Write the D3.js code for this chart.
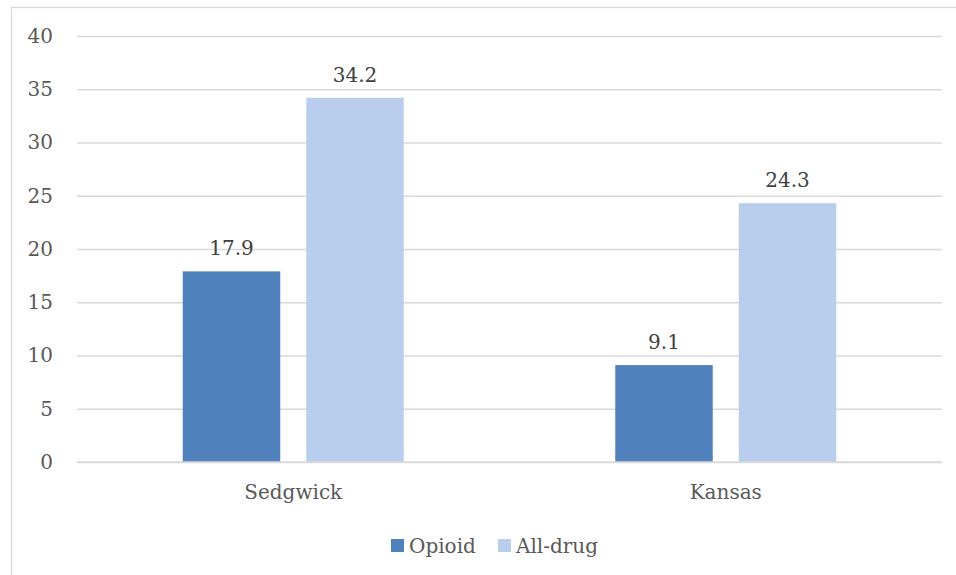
<!DOCTYPE html>
<html>
<head>
<meta charset="utf-8">
<script src="https://cdn.jsdelivr.net/npm/d3@7"></script>
<style>
  html, body { margin: 0; padding: 0; background: #fff; }
  svg { display: block; }
</style>
</head>
<body>
<svg id="chart" width="956" height="575"></svg>
<script>
const categories = ["Sedgwick", "Kansas"];
const seriesNames = ["Opioid", "All-drug"];
const opioidValues = [17.9, 9.1];
const allDrugValues = [34.2, 24.3];
const yTicks = [0, 5, 10, 15, 20, 25, 30, 35, 40];

(function () {
const colors = { "Opioid": "#4F81BD", "All-drug": "#B9CEED" };
const font = "'DejaVu Serif', 'Liberation Serif', serif";

const svg = d3.select("#chart");

// chart frame
svg.append("rect")
  .attr("x", 11.5).attr("y", 7.5)
  .attr("width", 980).attr("height", 620)
  .attr("fill", "#fff").attr("stroke", "#D9D9D9").attr("stroke-width", 1.3);

const pLeft = 77, pRight = 942, pTop = 36, pBottom = 462;

const y = d3.scaleLinear().domain([0, 40]).range([pBottom, pTop]);
const x0 = d3.scaleBand().domain(categories).range([pLeft, pRight]).padding(0);

const barW = 97.5, gap = 26;
const step = barW + gap;
const pInner = gap / step;
const pOuter = (x0.bandwidth() / step - (2 - pInner)) / 2;
const x1 = d3.scaleBand().domain(seriesNames).range([0, x0.bandwidth()])
  .paddingInner(pInner).paddingOuter(pOuter);

// gridlines
const yAxis = d3.axisLeft(y).tickValues(yTicks).tickSize(-(pRight - pLeft)).tickPadding(24);
const gy = svg.append("g").attr("transform", `translate(${pLeft},0)`).call(yAxis);
gy.select(".domain").remove();
gy.selectAll(".tick line").attr("stroke", "#D9D9D9").attr("stroke-width", 1.3);
gy.selectAll(".tick text")
  .attr("fill", "#595959").style("font-family", font).style("font-size", "20px");

const data = categories.map((c, i) => ({
  cat: c,
  vals: [
    { s: "Opioid", v: opioidValues[i] },
    { s: "All-drug", v: allDrugValues[i] }
  ]
}));

const groups = svg.append("g").selectAll("g").data(data).join("g")
  .attr("transform", d => `translate(${x0(d.cat)},0)`);

groups.selectAll("rect").data(d => d.vals).join("rect")
  .attr("x", d => x1(d.s))
  .attr("width", x1.bandwidth())
  .attr("y", d => y(d.v))
  .attr("height", d => y(0) - y(d.v))
  .attr("fill", d => colors[d.s]);

groups.selectAll("text.val").data(d => d.vals).join("text")
  .attr("class", "val")
  .attr("x", d => x1(d.s) + x1.bandwidth() / 2)
  .attr("y", d => y(d.v) - 16)
  .attr("text-anchor", "middle")
  .attr("fill", "#404040")
  .style("font-family", font).style("font-size", "20px")
  .text(d => d.v.toFixed(1));

// x axis baseline
svg.append("line")
  .attr("x1", pLeft).attr("x2", pRight)
  .attr("y1", y(0)).attr("y2", y(0))
  .attr("stroke", "#D9D9D9").attr("stroke-width", 1.3);

// category labels
svg.append("g").selectAll("text").data(categories).join("text")
  .attr("x", d => x0(d) + x0.bandwidth() / 2)
  .attr("y", 499)
  .attr("text-anchor", "middle")
  .attr("fill", "#595959")
  .style("font-family", font).style("font-size", "20px")
  .text(d => d);

// legend
const legendItems = [
  { s: "Opioid", x: 391 },
  { s: "All-drug", x: 498 }
];
const lg = svg.append("g");
lg.selectAll("rect").data(legendItems).join("rect")
  .attr("x", d => d.x).attr("y", 539)
  .attr("width", 13).attr("height", 13)
  .attr("fill", d => colors[d.s]);
lg.selectAll("text").data(legendItems).join("text")
  .attr("x", d => d.x + 18).attr("y", 553)
  .attr("fill", "#595959")
  .style("font-family", font).style("font-size", "20px")
  .text(d => d.s);
})();
</script>
</body>
</html>
